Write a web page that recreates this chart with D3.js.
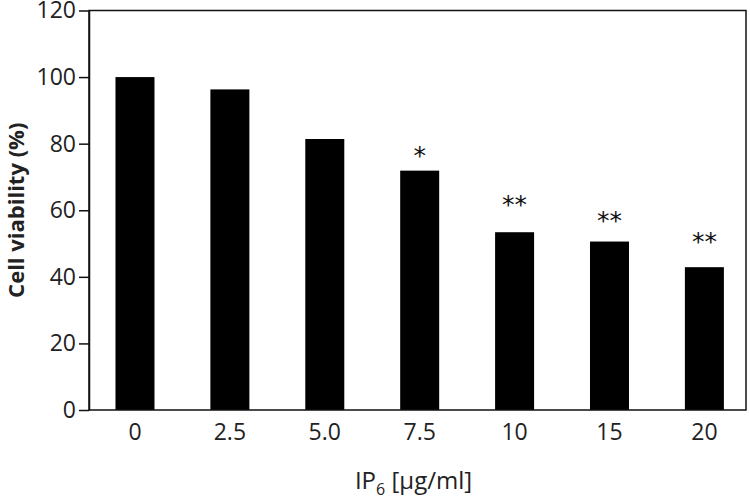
<!DOCTYPE html>
<html>
<head>
<meta charset="utf-8">
<script src="https://cdn.jsdelivr.net/npm/d3@7/dist/d3.min.js"></script>
<style>
  html, body { margin: 0; padding: 0; background: #fff; }
  svg { display: block; }
  text { font-family: "Open Sans", "Noto Sans", sans-serif; fill: #222; }
</style>
</head>
<body>
<div id="chart"></div>
<script>
// ---- data ----
const categories = ["0", "2.5", "5.0", "7.5", "10", "15", "20"];
const viability = [100, 96.3, 81.4, 71.9, 53.4, 50.6, 42.9];
const sigLabels = ["", "", "", "*", "**", "**", "**"];
const sigPos = [null, null, null, 77.9, 63.3, 58.6, 52.1];
const yTicks = [0, 20, 40, 60, 80, 100, 120];

// ---- layout ----
const W = 750, H = 500;
const mLeft = 89, mRight = 746, mTop = 10.5, mBottom = 410;

const svg = d3.select("#chart").append("svg")
  .attr("width", W).attr("height", H);

const x = d3.scaleBand()
  .domain(categories)
  .range([mLeft, mRight])
  .paddingInner(0.589)
  .paddingOuter(0.256)
  .align(0.545);

const y = d3.scaleLinear().domain([0, 120]).range([mBottom, mTop]);

// bars
svg.append("g").selectAll("rect")
  .data(categories)
  .join("rect")
  .attr("x", d => x(d))
  .attr("width", x.bandwidth())
  .attr("y", (d, i) => y(viability[i]))
  .attr("height", (d, i) => y(0) - y(viability[i]))
  .attr("fill", "#000");

// significance marks
svg.append("g").selectAll("text")
  .data(categories.filter((d, i) => sigLabels[i]))
  .join("text")
  .attr("x", d => x(d) + x.bandwidth() / 2)
  .attr("y", d => y(sigPos[categories.indexOf(d)]))
  .attr("dy", "0.55em")
  .attr("text-anchor", "middle")
  .style("font-family", "'DejaVu Sans', sans-serif")
  .style("font-size", "25px")
  .style("fill", "#111")
  .text(d => sigLabels[categories.indexOf(d)]);

// frame
svg.append("rect")
  .attr("x", mLeft).attr("y", mTop)
  .attr("width", mRight - mLeft).attr("height", mBottom - mTop)
  .attr("fill", "none").attr("stroke", "#111").attr("stroke-width", 1.5);

// y axis
const yAxis = svg.append("g")
  .attr("transform", `translate(${mLeft},0)`)
  .call(d3.axisLeft(y).tickValues(yTicks).tickSize(10).tickPadding(3).tickSizeOuter(0));
yAxis.select(".domain").attr("stroke", "#111").attr("stroke-width", 1.5);
yAxis.selectAll(".tick line").attr("stroke", "#111").attr("stroke-width", 1.5);
yAxis.selectAll(".tick text").style("font-size", "23px").attr("fill", "#222");

// x axis (labels only)
const xAxis = svg.append("g")
  .attr("transform", `translate(0,${mBottom})`)
  .call(d3.axisBottom(x).tickSize(0).tickPadding(14));
xAxis.select(".domain").remove();
xAxis.selectAll(".tick text").style("font-size", "23px").attr("fill", "#222");

// y title
svg.append("text")
  .attr("transform", `translate(24,${(mTop + mBottom) / 2}) rotate(-90)`)
  .attr("text-anchor", "middle")
  .style("font-size", "22px")
  .style("font-weight", "bold")
  .text("Cell viability (%)");

// x title
const xt = svg.append("text")
  .attr("x", (mLeft + mRight) / 2 - 4)
  .attr("y", 489)
  .attr("text-anchor", "middle")
  .style("font-size", "24px");
xt.append("tspan").text("IP");
xt.append("tspan").attr("dy", "6").style("font-size", "16px").text("6");
xt.append("tspan").attr("dy", "-6").text(" [µg/ml]");
</script>
</body>
</html>
